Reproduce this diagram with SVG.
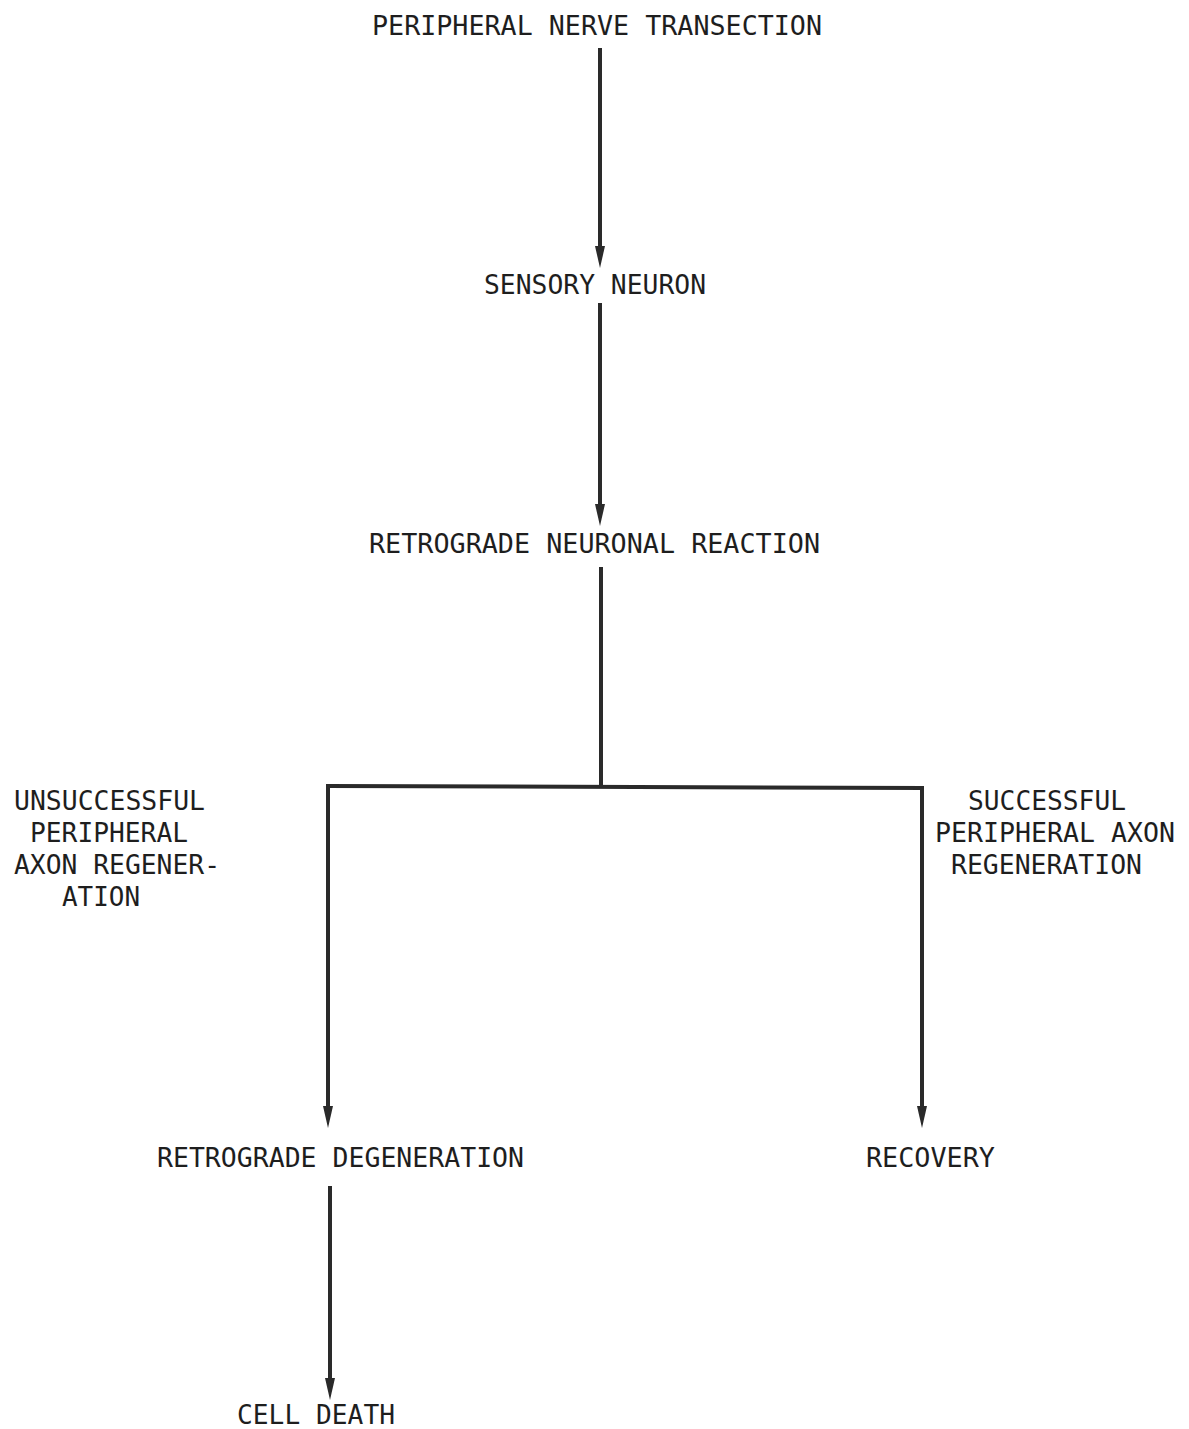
<svg xmlns="http://www.w3.org/2000/svg" width="1189" height="1429" viewBox="0 0 1189 1429">
<style>
text{font-family:"DejaVu Sans Mono","Liberation Mono",monospace;font-size:27px;fill:#1e1e1e;}
.ln{stroke:#2a2a2a;stroke-width:4;fill:none;}
.ah{fill:#2a2a2a;}
</style>
<rect width="1189" height="1429" fill="#fff"/>
<g id="connectors">
<line class="ln" x1="600" y1="48" x2="600" y2="250"/>
<path class="ah" d="M595,246 L605,246 L600,268 Z"/>
<line class="ln" x1="600" y1="303" x2="600" y2="508"/>
<path class="ah" d="M595,504 L605,504 L600,526 Z"/>
<line class="ln" x1="601" y1="567" x2="601" y2="787"/>
<line class="ln" x1="326" y1="786" x2="924" y2="788"/>
<line class="ln" x1="328" y1="786" x2="328" y2="1110"/>
<path class="ah" d="M323,1106 L333,1106 L328,1128 Z"/>
<line class="ln" x1="922" y1="788" x2="922" y2="1110"/>
<path class="ah" d="M917,1106 L927,1106 L922,1128 Z"/>
<line class="ln" x1="330" y1="1186" x2="330" y2="1382"/>
<path class="ah" d="M325,1378 L335,1378 L330,1400 Z"/>
</g>
<g id="n1"><text x="372" y="35" textLength="450" lengthAdjust="spacingAndGlyphs">PERIPHERAL NERVE TRANSECTION</text></g>
<g id="n2"><text x="484" y="294" textLength="222" lengthAdjust="spacingAndGlyphs">SENSORY NEURON</text></g>
<g id="n3"><text x="369" y="553" textLength="451" lengthAdjust="spacingAndGlyphs">RETROGRADE NEURONAL REACTION</text></g>
<g id="n4"><text x="157" y="1167" textLength="367" lengthAdjust="spacingAndGlyphs">RETROGRADE DEGENERATION</text></g>
<g id="n5"><text x="866" y="1167" textLength="129" lengthAdjust="spacingAndGlyphs">RECOVERY</text></g>
<g id="n6"><text x="237" y="1424" textLength="158" lengthAdjust="spacingAndGlyphs">CELL DEATH</text></g>
<g id="label-left">
<text x="14" y="810" textLength="191" lengthAdjust="spacingAndGlyphs">UNSUCCESSFUL</text>
<text x="30" y="842" textLength="158" lengthAdjust="spacingAndGlyphs">PERIPHERAL</text>
<text x="14" y="874" textLength="206" lengthAdjust="spacingAndGlyphs">AXON REGENER-</text>
<text x="62" y="906" textLength="78" lengthAdjust="spacingAndGlyphs">ATION</text>
</g>
<g id="label-right">
<text x="968" y="810" textLength="158" lengthAdjust="spacingAndGlyphs">SUCCESSFUL</text>
<text x="935" y="842" textLength="240" lengthAdjust="spacingAndGlyphs">PERIPHERAL AXON</text>
<text x="951" y="874" textLength="191" lengthAdjust="spacingAndGlyphs">REGENERATION</text>
</g>
</svg>
